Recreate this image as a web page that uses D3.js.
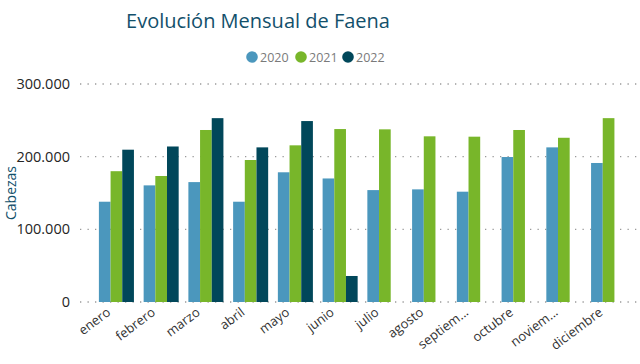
<!DOCTYPE html>
<html>
<head>
  <meta charset="utf-8">
  <title>Evolución Mensual de Faena</title>
  <script src="https://cdnjs.cloudflare.com/ajax/libs/d3/7.8.5/d3.min.js"></script>
  <style>
    body { margin: 0; background: #fff; }
    text { font-family: "Open Sans", "DejaVu Sans", sans-serif; }
  </style>
</head>
<body>
  <div id="vis"></div>
  <script>
var w = 640, h = 364;

var meses = ["enero", "febrero", "marzo", "abril", "mayo", "junio", "julio",
  "agosto", "septiembre", "octubre", "noviembre", "diciembre"];
var etiquetas = ["enero", "febrero", "marzo", "abril", "mayo", "junio", "julio",
  "agosto", "septiem...", "octubre", "noviem...", "diciembre"];
var anios = ["2020", "2021", "2022"];
var v2020 = [138000, 160500, 165000, 138000, 178500, 170000, 154000, 155000, 151800, 199500, 212800, 191300];
var v2021 = [180000, 173400, 236700, 195400, 215600, 238000, 237600, 228000, 227500, 236700, 226000, 253000];
var v2022 = [209600, 214000, 253000, 212800, 249000, 35800, null, null, null, null, null, null];
var ticks = [0, 100000, 200000, 300000];
var colores = ["#4B97BD", "#78B62A", "#01475A"];

var series = [v2020, v2021, v2022];

var svg = d3.select("#vis").append("svg")
  .attr("width", w)
  .attr("height", h);

var x = d3.scaleBand().domain(meses).range([81, 644])
  .paddingInner(0.217).paddingOuter(0.4);
var xs = d3.scaleBand().domain(anios).range([0, x.bandwidth()]);
var y = d3.scaleLinear().domain([0, 300000]).range([302, 84]);

var fmt = function(d) { return d3.format(",")(d).replace(/,/g, "."); };

// titulo
svg.append("text")
  .attr("x", 258).attr("y", 28)
  .attr("text-anchor", "middle")
  .style("font-size", "20px")
  .style("fill", "#12506B")
  .text("Evolución Mensual de Faena");

// leyenda
var lx = [252, 301, 348];
var ley = svg.selectAll("g.ley").data(anios).enter().append("g")
  .attr("class", "ley")
  .attr("transform", function(d, i) { return "translate(" + lx[i] + ",57)"; });
ley.append("circle").attr("r", 5.8).style("fill", function(d, i) { return colores[i]; });
ley.append("text").attr("x", 8).attr("y", 4.5)
  .style("font-size", "12.5px").style("fill", "#7a7a7a")
  .text(function(d) { return d; });

// grilla
svg.selectAll("line.grid").data(ticks).enter().append("line")
  .attr("class", "grid")
  .attr("x1", 80).attr("x2", 640)
  .attr("y1", function(d) { return y(d); })
  .attr("y2", function(d) { return y(d); })
  .style("stroke", "#9a9a9a")
  .style("stroke-width", 1.3)
  .style("stroke-dasharray", "1.3,6.2");

svg.selectAll("text.ytick").data(ticks).enter().append("text")
  .attr("class", "ytick")
  .attr("x", 70)
  .attr("y", function(d) { return y(d) + 5; })
  .attr("text-anchor", "end")
  .style("font-size", "14.5px")
  .style("fill", "#252525")
  .text(fmt);

svg.append("text")
  .attr("transform", "translate(16,193) rotate(-90)")
  .attr("text-anchor", "middle")
  .style("font-size", "14px")
  .style("fill", "#12506B")
  .text("Cabezas");

// barras
var grupos = svg.selectAll("g.serie").data(series).enter().append("g")
  .attr("class", "serie")
  .style("fill", function(d, i) { return colores[i]; });

grupos.each(function(s, si) {
  d3.select(this).selectAll("rect")
    .data(s.map(function(val, i) { return { mes: meses[i], val: val }; })
      .filter(function(d) { return d.val != null; }))
    .enter().append("rect")
    .attr("x", function(d) { return x(d.mes) + xs(anios[si]); })
    .attr("y", function(d) { return y(d.val); })
    .attr("width", xs.bandwidth())
    .attr("height", function(d) { return y(0) - y(d.val); });
});

// etiquetas eje x
svg.selectAll("text.xlab").data(meses).enter().append("text")
  .attr("class", "xlab")
  .attr("transform", function(d) {
    return "translate(" + (x(d) + x.bandwidth() / 2 - 5) + ",314) rotate(-37)";
  })
  .attr("text-anchor", "end")
  .style("font-size", "13px")
  .style("fill", "#333")
  .text(function(d, i) { return etiquetas[i]; });
  </script>
</body>
</html>
